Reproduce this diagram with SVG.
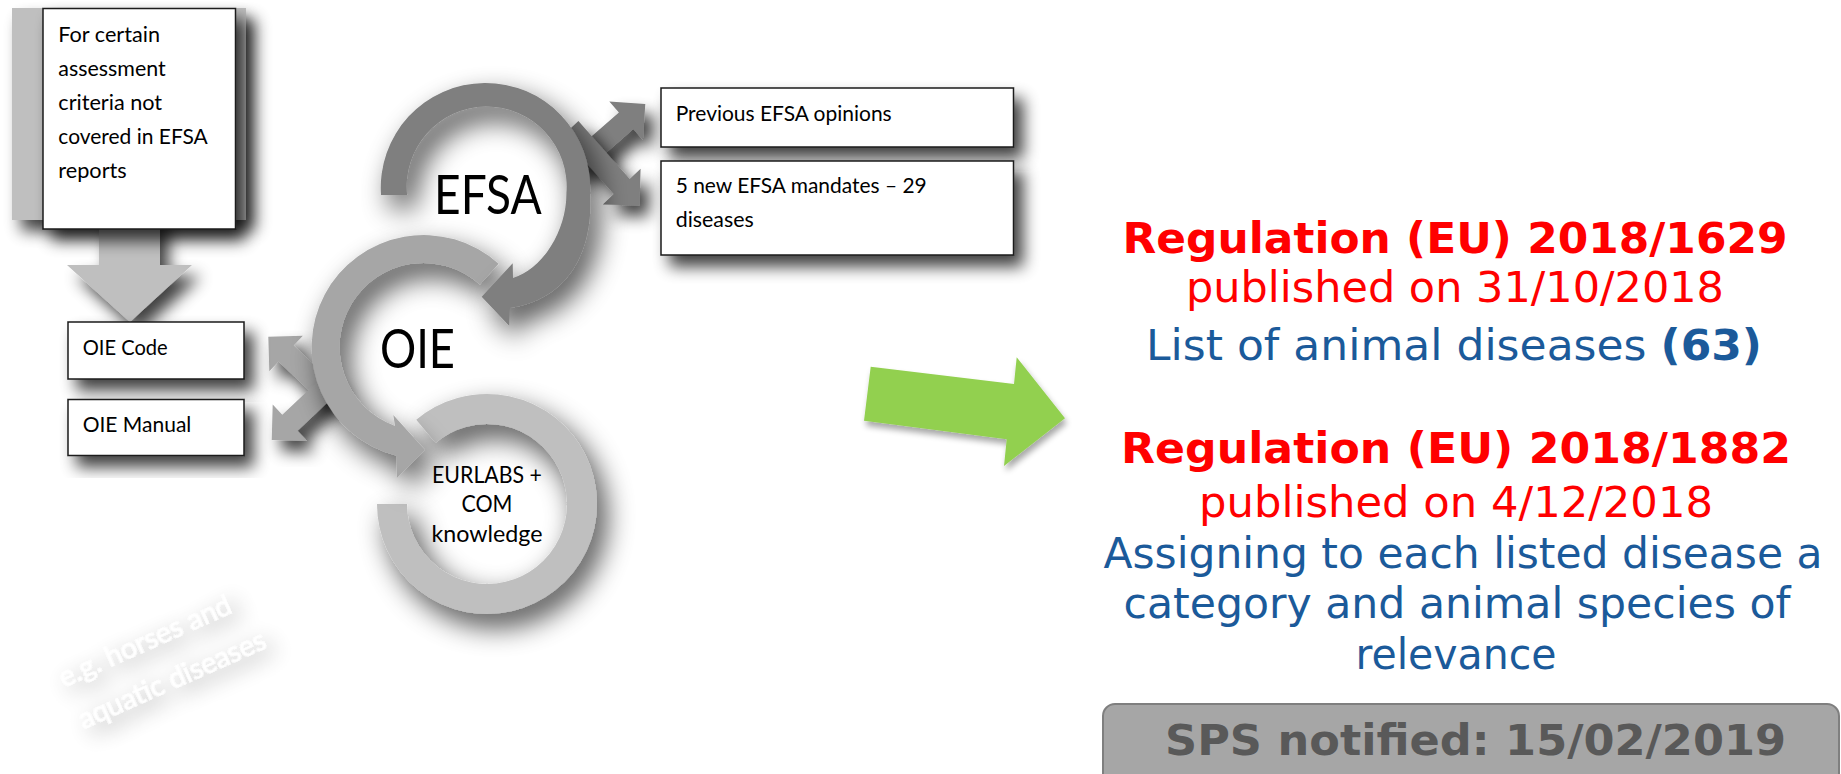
<svg xmlns="http://www.w3.org/2000/svg" width="1841" height="774" viewBox="0 0 1841 774">
<defs>
<style>
.box{fill:#ffffff;stroke:#1a1a1a;stroke-width:1.5}
.lt{font-family:Lato,"Open Sans","Liberation Sans",sans-serif;fill:#000000}
.bx{font-size:21.5px}
.big{font-size:54px}
.eu{font-size:22.5px;text-anchor:middle}
.rt{font-family:"DejaVu Sans",Verdana,"Liberation Sans",sans-serif;font-size:43px;text-anchor:middle}
.red{fill:#ff0000}
.blue{fill:#1b5a9a}
.b{font-weight:bold}
</style>
<filter id="sh" x="-30%" y="-30%" width="170%" height="170%">
<feGaussianBlur in="SourceAlpha" stdDeviation="8"/>
<feOffset dx="9" dy="11"/>
<feComponentTransfer><feFuncA type="linear" slope="0.75"/></feComponentTransfer>
<feMerge><feMergeNode/><feMergeNode in="SourceGraphic"/></feMerge>
</filter>
<filter id="shr" x="-40%" y="-40%" width="180%" height="180%">
<feGaussianBlur in="SourceAlpha" stdDeviation="14"/>
<feOffset dx="9" dy="13"/>
<feComponentTransfer><feFuncA type="linear" slope="0.7"/></feComponentTransfer>
<feMerge><feMergeNode/><feMergeNode in="SourceGraphic"/></feMerge>
</filter>
<filter id="shg" x="-20%" y="-20%" width="140%" height="150%">
<feGaussianBlur in="SourceAlpha" stdDeviation="3"/>
<feOffset dx="2" dy="5"/>
<feComponentTransfer><feFuncA type="linear" slope="0.35"/></feComponentTransfer>
<feMerge><feMergeNode/><feMergeNode in="SourceGraphic"/></feMerge>
</filter>
<filter id="shw" x="-50%" y="-100%" width="200%" height="300%">
<feGaussianBlur in="SourceAlpha" stdDeviation="11"/>
<feOffset dx="5" dy="8"/>
<feComponentTransfer><feFuncA type="linear" slope="0.45"/></feComponentTransfer>
<feMerge><feMergeNode/><feMergeNode in="SourceGraphic"/></feMerge>
</filter>
</defs>
<rect x="0" y="0" width="1841" height="774" fill="#ffffff"/>

<!-- watermark -->
<g id="watermark" filter="url(#shw)" transform="translate(64,688) rotate(-24)">
<text class="lt" x="0" y="0" font-size="28" style="fill:#ffffff" textLength="186" lengthAdjust="spacingAndGlyphs">e.g. horses and</text>
<text class="lt" x="1" y="46" font-size="28" style="fill:#ffffff" textLength="202" lengthAdjust="spacingAndGlyphs">aquatic diseases</text>
</g>

<!-- callout down arrow -->
<g id="criteria">
<polygon filter="url(#sh)" points="12,8 246,8 246,220 160,220 160,265 192,265 130,322 67,265 99,265 99,220 12,220" fill="#bfbfbf"/>
<rect class="box" filter="url(#sh)" x="43" y="8.5" width="192.5" height="220.5"/>
<text class="lt bx" x="58.3" y="42" textLength="101.7" lengthAdjust="spacingAndGlyphs">For certain</text>
<text class="lt bx" x="58.3" y="76" textLength="107.4" lengthAdjust="spacingAndGlyphs">assessment</text>
<text class="lt bx" x="58.3" y="110" textLength="103.8" lengthAdjust="spacingAndGlyphs">criteria not</text>
<text class="lt bx" x="58.3" y="144" textLength="149.5" lengthAdjust="spacingAndGlyphs">covered in EFSA</text>
<text class="lt bx" x="58.3" y="178" textLength="68.4" lengthAdjust="spacingAndGlyphs">reports</text>
</g>

<!-- connectors: double arrows and green arrow -->
<g id="connectors">
<polygon filter="url(#sh)" fill="#a6a6a6" points="337.6,387 293.7,345.5 302.9,335.7 268.3,336.7 269.3,371.3 278.5,361.5 322.4,403"/>
<polygon filter="url(#sh)" fill="#a6a6a6" points="322.4,377 282.3,414.8 272.7,404.6 271.7,440 307.1,441 297.5,430.8 337.6,393"/>
<polygon filter="url(#sh)" fill="#7f7f7f" points="579.2,176.3 633.3,129.1 642.9,140 645.3,104 609.3,101.6 618.9,112.5 564.8,159.7"/>
<polygon filter="url(#sh)" fill="#7f7f7f" points="562.4,136.1 613.7,194.1 602.8,204.4 639.5,205.5 640.6,168.8 629.7,179.1 578.4,121.1"/>
<polygon filter="url(#shg)" fill="#92d050" points="870.7,366.7 1014,384 1016.7,357.3 1065,418.3 1004,466 1006.7,439.3 864,420.7"/>
</g>

<!-- EURLABS ring -->
<g id="eurlabs">
<path filter="url(#shr)" d="M392,504 A95,95 0 1 0 425.9,431.2" fill="none" stroke="#bfbfbf" stroke-width="30"/>
<text class="lt eu" x="487" y="483.3" textLength="110" lengthAdjust="spacingAndGlyphs">EURLABS +</text>
<text class="lt eu" x="487" y="512.3" textLength="51" lengthAdjust="spacingAndGlyphs">COM</text>
<text class="lt eu" x="487" y="541.7" textLength="111" lengthAdjust="spacingAndGlyphs">knowledge</text>
</g>

<!-- OIE ring -->
<g id="oie">
<path filter="url(#shr)" fill="#a6a6a6" d="M498.6,263.8 A112,112 0 1 0 396.6,455.7 L396.7,478.3 L425,450 L393.3,415 L395,425.9 A84,84 0 1 1 479.9,284.6 Z"/>
<text class="lt big" x="380" y="368.3" textLength="75" lengthAdjust="spacingAndGlyphs">OIE</text>
</g>

<!-- EFSA ring -->
<g id="efsa">
<path filter="url(#shr)" fill="#7f7f7f" d="M381,195 A104.7,104.7 0 1 1 590,193 C594,255 565,300 510,308 L509.3,326 L481.7,296.7 L512.7,263.3 L513,278 C543,269 566.7,230 566.4,193 A80,80 0 1 0 407.1,195 Z"/>
<text class="lt big" x="434" y="214" textLength="107.7" lengthAdjust="spacingAndGlyphs">EFSA</text>
</g>

<!-- OIE boxes -->
<g id="oie-code">
<rect class="box" filter="url(#sh)" x="68" y="322" width="176" height="57"/>
<text class="lt bx" x="82.7" y="355" textLength="85" lengthAdjust="spacingAndGlyphs">OIE Code</text>
</g>
<g id="oie-manual">
<rect class="box" filter="url(#sh)" x="68" y="399.5" width="176" height="56"/>
<text class="lt bx" x="82.7" y="432" textLength="108.6" lengthAdjust="spacingAndGlyphs">OIE Manual</text>
</g>

<!-- EFSA boxes -->
<g id="prev-opinions">
<rect class="box" filter="url(#sh)" x="661" y="88" width="352.5" height="59"/>
<text class="lt bx" x="675.7" y="121" textLength="216" lengthAdjust="spacingAndGlyphs">Previous EFSA opinions</text>
</g>
<g id="new-mandates">
<rect class="box" filter="url(#sh)" x="661" y="161" width="352.5" height="94"/>
<text class="lt bx" x="675.7" y="193.3" textLength="251" lengthAdjust="spacingAndGlyphs">5 new EFSA mandates – 29</text>
<text class="lt bx" x="675.7" y="226.7" textLength="78" lengthAdjust="spacingAndGlyphs">diseases</text>
</g>

<!-- regulations text -->
<g id="reg1629">
<text class="rt red b" x="1455" y="253" textLength="665" lengthAdjust="spacingAndGlyphs">Regulation (EU) 2018/1629</text>
<text class="rt red" x="1455" y="302" textLength="538" lengthAdjust="spacingAndGlyphs">published on 31/10/2018</text>
<text class="rt blue" x="1454" y="360" textLength="616" lengthAdjust="spacingAndGlyphs">List of animal diseases <tspan class="b">(63)</tspan></text>
</g>
<g id="reg1882">
<text class="rt red b" x="1456" y="463" textLength="670" lengthAdjust="spacingAndGlyphs">Regulation (EU) 2018/1882</text>
<text class="rt red" x="1456" y="517" textLength="514" lengthAdjust="spacingAndGlyphs">published on 4/12/2018</text>
<text class="rt blue" x="1463" y="568" textLength="719" lengthAdjust="spacingAndGlyphs">Assigning to each listed disease a</text>
<text class="rt blue" x="1457" y="618" textLength="667" lengthAdjust="spacingAndGlyphs">category and animal species of</text>
<text class="rt blue" x="1456" y="669" textLength="201" lengthAdjust="spacingAndGlyphs">relevance</text>
</g>

<g id="sps">
<rect x="1103" y="704" width="736" height="90" rx="12" ry="12" fill="#a6a6a6" stroke="#7f7f7f" stroke-width="2"/>
<text class="rt b" x="1475.5" y="755" style="fill:#595959" textLength="621" lengthAdjust="spacingAndGlyphs">SPS notified: 15/02/2019</text>
</g>
</svg>
